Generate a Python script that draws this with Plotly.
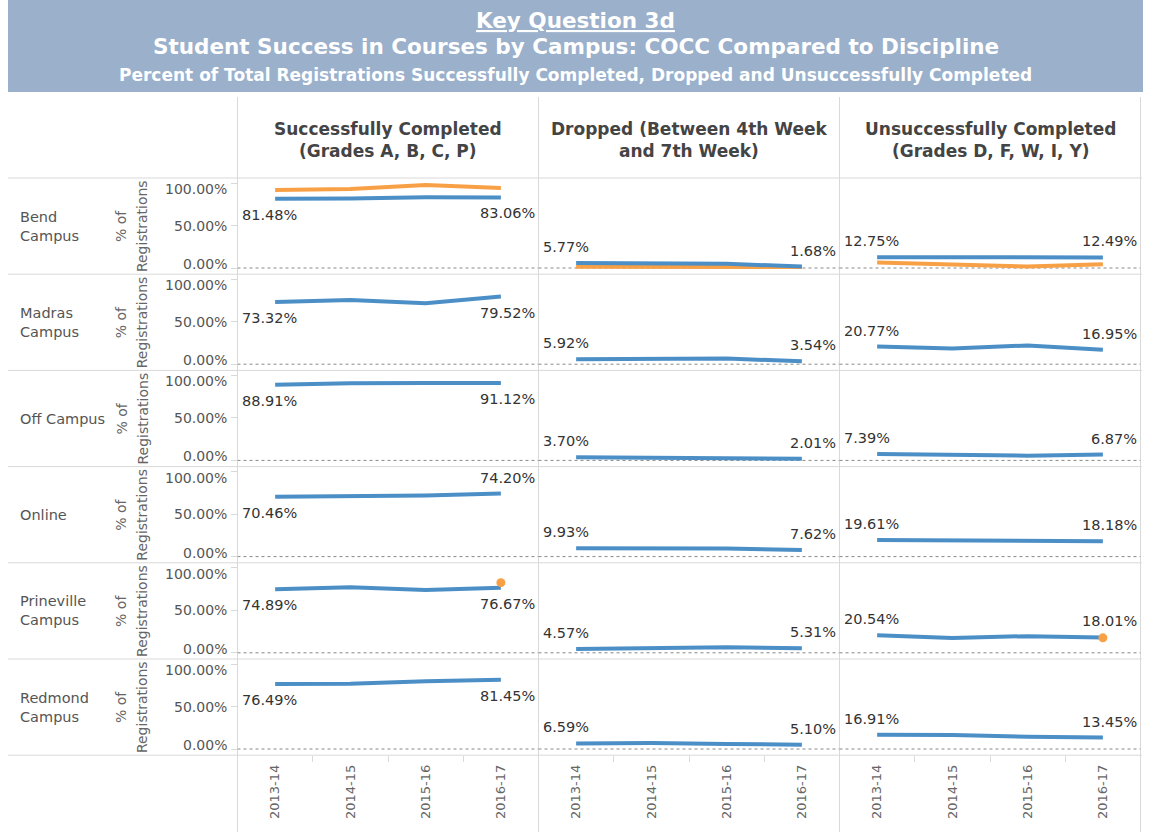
import plotly.graph_objects as go

# ---------------- data ----------------
years = ["2013-14", "2014-15", "2015-16", "2016-17"]
campuses = ["Bend<br>Campus", "Madras<br>Campus", "Off Campus", "Online",
            "Prineville<br>Campus", "Redmond<br>Campus"]
measures = ["Successfully Completed<br>(Grades A, B, C, P)",
            "Dropped (Between 4th Week<br>and 7th Week)",
            "Unsuccessfully Completed<br>(Grades D, F, W, I, Y)"]
y_tick_vals = [0, 50, 100]
y_tick_text = ["0.00%", "50.00%", "100.00%"]

# COCC (blue) – one list per campus
success_cocc = [
    [81.48, 81.7, 83.2, 83.06],
    [73.32, 75.4, 71.6, 79.52],
    [88.91, 90.8, 91.0, 91.12],
    [70.46, 70.9, 71.9, 74.20],
    [74.89, 77.2, 73.8, 76.67],
    [76.49, 76.8, 79.6, 81.45],
]
dropped_cocc = [
    [5.77, 5.4, 4.9, 1.68],
    [5.92, 6.0, 6.6, 3.54],
    [3.70, 3.3, 3.1, 2.01],
    [9.93, 10.1, 9.6, 7.62],
    [4.57, 5.3, 6.4, 5.31],
    [6.59, 7.1, 5.9, 5.10],
]
unsucc_cocc = [
    [12.75, 12.6, 11.7, 12.49],
    [20.77, 18.6, 22.0, 16.95],
    [7.39, 5.9, 5.5, 6.87],
    [19.61, 19.0, 18.6, 18.18],
    [20.54, 17.5, 19.6, 18.01],
    [16.91, 16.4, 14.3, 13.45],
]
# Discipline (orange)
success_disc = [
    [91.8, 92.9, 97.6, 94.1],
    None, None, None,
    [None, None, None, 82.5],
    None,
]
dropped_disc = [
    [1.4, 1.2, 0.9, 1.3],
    None, None, None, None, None,
]
unsucc_disc = [
    [6.5, 4.7, 1.8, 4.5],
    None, None, None,
    [None, None, None, 17.6],
    None,
]

cocc_sets = [success_cocc, dropped_cocc, unsucc_cocc]
disc_sets = [success_disc, dropped_disc, unsucc_disc]

# ---------------- layout geometry (pixels) ----------------
W, H = 1155, 832
col_left = [237.5, 538.5, 839.5]
col_w = 301.0
row_top0 = 178.0
row_h = 96.2
zero_off = 90.0      # px from row top to 0%
px_per_100 = 85.0

BLUE = "#4C8FC7"
ORANGE = "#F8A045"
GRID = "#D9D9D9"
BODY = "DejaVu Sans"
HEAD = "DejaVu Sans"


def fx(x):
    return x / W


def fy(y):
    return 1 - y / H


y_lo = -(row_h - zero_off) / px_per_100 * 100
y_hi = zero_off / px_per_100 * 100

fig = go.Figure()
layout = {}
annotations = []
shapes = []

label_above_exceptions = {(3, 0, 1)}  # Online, Successfully, last label
tick_label_shift = {0: 4, 50: 0, 100: -6}

for r in range(6):
    top = row_top0 + r * row_h
    for c in range(3):
        n = r * 3 + c + 1
        sfx = "" if n == 1 else str(n)
        left = col_left[c]
        layout["xaxis" + sfx] = dict(
            domain=[fx(left), fx(left + col_w)],
            anchor="y" + sfx,
            type="category",
            categoryorder="array",
            categoryarray=years,
            range=[-0.5, 3.5],
            showgrid=False, zeroline=False, showline=False,
            showticklabels=(r == 5),
            ticks="outside" if r == 5 else "",
            tickson="boundaries",
            ticklen=6, tickcolor=GRID,
            tickangle=-90,
            ticklabelstandoff=6,
            tickfont=dict(family=BODY, size=13, color="#666666"),
            fixedrange=True,
        )
        layout["yaxis" + sfx] = dict(
            domain=[fy(top + row_h), fy(top)],
            anchor="x" + sfx,
            range=[y_lo, y_hi],
            showgrid=False, zeroline=False, showline=False,
            showticklabels=False,
            tickvals=y_tick_vals,
            ticks="outside" if c == 0 else "",
            ticklen=6, tickcolor=GRID,
            fixedrange=True,
        )
        xr, yr = "x" + sfx, "y" + sfx

        if c == 0:
            for tv, tt in zip(y_tick_vals, y_tick_text):
                annotations.append(dict(
                    x=fx(229), y=tv, xref="paper", yref=yr, xanchor="right",
                    yanchor="middle", yshift=tick_label_shift[tv], text=tt,
                    showarrow=False, font=dict(family=BODY, size=14, color="#555555")))

        # dotted zero line
        shapes.append(dict(type="line", xref=xr, yref=yr, x0=-0.5, x1=3.5,
                           y0=0, y1=0, line=dict(color="#888888", width=1, dash="dot"),
                           layer="below"))

        blue = cocc_sets[c][r]
        disc = disc_sets[c][r]
        single_disc = disc is not None and sum(v is not None for v in disc) == 1
        if disc is not None and not single_disc:
            fig.add_trace(go.Scatter(x=years, y=disc, xaxis=xr, yaxis=yr, mode="lines",
                                     line=dict(color=ORANGE, width=4),
                                     hoverinfo="skip", showlegend=False))
        fig.add_trace(go.Scatter(x=years, y=blue, xaxis=xr, yaxis=yr, mode="lines",
                                 line=dict(color=BLUE, width=4),
                                 hoverinfo="skip", showlegend=False))
        if single_disc:
            fig.add_trace(go.Scatter(x=years, y=disc, xaxis=xr, yaxis=yr, mode="markers",
                                     marker=dict(color=ORANGE, size=9),
                                     hoverinfo="skip", showlegend=False))

        # end labels
        for k, (idx, xpos, anchor, xs) in enumerate([(0, -0.5, "left", 2), (3, 3.5, "right", -2)]):
            above = (c != 0) or ((r, c, k) in label_above_exceptions)
            annotations.append(dict(
                x=xpos, y=blue[idx], xref=xr, yref=yr, xanchor=anchor, yanchor="middle",
                xshift=xs, yshift=16 if above else -16,
                text=f"{blue[idx]:.2f}%", showarrow=False,
                font=dict(family=BODY, size=14.5, color="#333333")))

    # campus row label
    annotations.append(dict(x=fx(18), y=fy(top + row_h / 2), xref="paper", yref="paper",
                            xanchor="left", yanchor="middle", align="left",
                            text=campuses[r], showarrow=False,
                            font=dict(family=BODY, size=14.5, color="#555555")))
    # y-axis title (two lines)
    annotations.append(dict(x=fx(121), y=fy(top + row_h / 2), xref="paper", yref="paper",
                            xanchor="center", yanchor="middle", textangle=-90,
                            text="% of", showarrow=False,
                            font=dict(family=BODY, size=14, color="#666666")))
    annotations.append(dict(x=fx(142), y=fy(top + row_h / 2), xref="paper", yref="paper",
                            xanchor="center", yanchor="middle", textangle=-90,
                            text="Registrations", showarrow=False,
                            font=dict(family=BODY, size=14, color="#666666")))

# grid lines
for i in range(7):
    y = row_top0 + i * row_h
    shapes.append(dict(type="line", xref="paper", yref="paper", x0=fx(8), x1=fx(1142),
                       y0=fy(y), y1=fy(y), line=dict(color=GRID, width=1), layer="below"))
for xv in col_left + [col_left[-1] + col_w]:
    shapes.append(dict(type="line", xref="paper", yref="paper", x0=fx(xv), x1=fx(xv),
                       y0=fy(97), y1=fy(832), line=dict(color=GRID, width=1), layer="below"))

# header band
shapes.append(dict(type="rect", xref="paper", yref="paper", x0=fx(8), x1=fx(1143),
                   y0=fy(92), y1=fy(0), fillcolor="#9BB0CB", line=dict(width=0), layer="below"))

annotations.append(dict(x=fx(575.5), y=fy(20), xref="paper", yref="paper",
                        xanchor="center", yanchor="middle",
                        text="<b><u>Key Question 3d</u></b>", showarrow=False,
                        font=dict(family=HEAD, size=21.5, color="white")))
annotations.append(dict(x=fx(575.5), y=fy(47), xref="paper", yref="paper",
                        xanchor="center", yanchor="middle",
                        text="<b>Student Success in Courses by Campus: COCC Compared to Discipline</b>",
                        showarrow=False, font=dict(family=HEAD, size=21.5, color="white")))
annotations.append(dict(x=fx(575.5), y=fy(75), xref="paper", yref="paper",
                        xanchor="center", yanchor="middle",
                        text="<b>Percent of Total Registrations Successfully Completed, Dropped and Unsuccessfully Completed</b>",
                        showarrow=False, font=dict(family=HEAD, size=17, color="white")))

for c in range(3):
    annotations.append(dict(x=fx(col_left[c] + col_w / 2), y=fy(140), xref="paper", yref="paper",
                            xanchor="center", yanchor="middle",
                            text="<b>" + measures[c] + "</b>", showarrow=False,
                            font=dict(family=HEAD, size=17, color="#444444")))

fig.update_layout(
    width=W, height=H,
    margin=dict(l=0, r=0, t=0, b=0),
    paper_bgcolor="white", plot_bgcolor="rgba(0,0,0,0)",
    showlegend=False,
    annotations=annotations,
    shapes=shapes,
    **layout,
)

fig.write_html("out.html", config={"displayModeBar": False},
               post_script="document.body.style.margin='0';")
